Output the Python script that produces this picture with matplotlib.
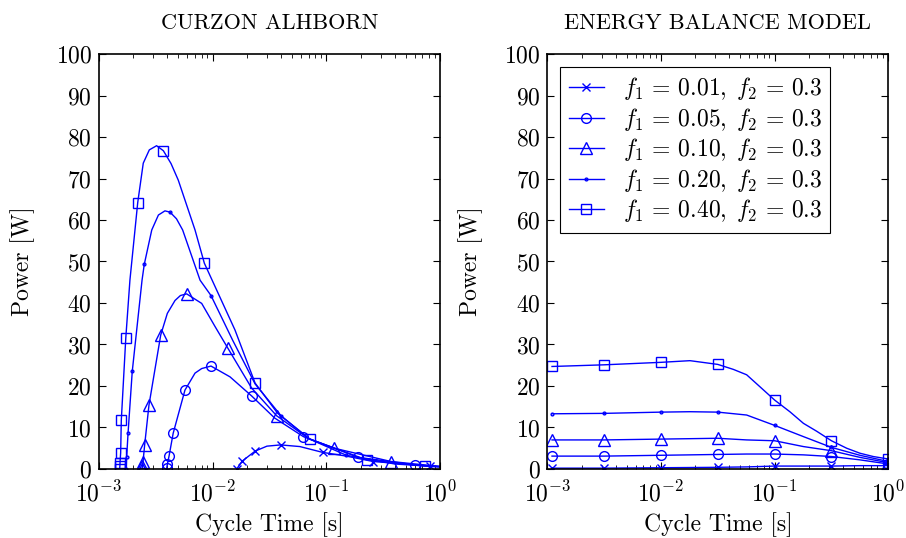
import matplotlib
matplotlib.use('Agg')
import matplotlib.pyplot as plt

plt.rcParams['font.family'] = 'serif'
plt.rcParams['font.serif'] = ['cmr10']
plt.rcParams['mathtext.fontset'] = 'cm'
plt.rcParams['axes.unicode_minus'] = False
plt.rcParams['axes.formatter.use_mathtext'] = True

# ---- Curzon-Ahlborn panel (cycle time [s], power [W]) ----
ca_t_001 = [0.01626, 0.0182, 0.0236, 0.030, 0.0396, 0.0585, 0.0927, 0.150, 0.258, 0.815, 1.0]
ca_p_001 = [0.0, 1.9, 4.3, 5.5, 5.8, 5.4, 4.0, 3.1, 1.8, 0.7, 0.6]
ca_m_001 = [0, 1, 2, 4, 6, 8, 9]

ca_t_005 = [3.94e-3, 3.99e-3, 4.13e-3, 4.49e-3, 5.7e-3, 6.99e-3, 8.0e-3, 9.66e-3,
            0.0142, 0.022, 0.035, 0.0627, 0.191, 0.60, 1.0]
ca_p_005 = [0.2, 1.1, 3.1, 8.6, 19.0, 23.1, 24.2, 24.8, 22.2, 17.6, 12.3, 7.8, 2.8, 1.0, 0.6]
ca_m_005 = [0, 1, 2, 3, 4, 7, 9, 11, 12, 13]

ca_t_010 = [2.39e-3, 2.41e-3, 2.44e-3, 2.52e-3, 2.75e-3, 3.49e-3, 3.99e-3, 4.66e-3, 5.2e-3,
            5.9e-3, 8.0e-3, 0.0105, 0.0136, 0.022, 0.0366, 0.07, 0.1173, 0.37, 1.0]
ca_p_010 = [0.1, 0.6, 1.8, 5.8, 15.4, 32.3, 37.5, 40.6, 41.8, 42.2, 39.9, 34.3, 29.1, 19.5,
            12.8, 7.3, 5.0, 1.8, 0.6]
ca_m_010 = [0, 1, 2, 3, 4, 5, 9, 12, 14, 16, 17]

ca_t_020 = [1.74e-3, 1.75e-3, 1.80e-3, 1.96e-3, 2.39e-3, 2.5e-3, 2.91e-3, 3.33e-3, 3.80e-3,
            4.21e-3, 4.8e-3, 5.44e-3, 7.74e-3, 9.66e-3, 0.015, 0.0236, 0.04, 0.07, 0.15,
            0.4, 1.0]
ca_p_020 = [0.0, 2.8, 8.6, 23.5, 45.5, 49.3, 57.6, 61.2, 62.2, 61.9, 60.3, 57.6, 45.5, 41.8,
            31.0, 20.5, 12.8, 7.3, 3.3, 1.2, 0.5]
ca_m_020 = [0, 1, 2, 3, 5, 9, 13, 16, 18]

ca_t_040 = [1.52e-3, 1.525e-3, 1.53e-3, 1.55e-3, 1.57e-3, 1.72e-3, 1.87e-3, 2.19e-3, 2.45e-3,
            2.77e-3, 3.21e-3, 3.68e-3, 4.3e-3, 4.98e-3, 6.99e-3, 8.44e-3, 0.0157, 0.0236,
            0.0373, 0.0718, 0.226, 0.737, 1.0]
ca_p_040 = [0.1, 0.6, 1.5, 3.9, 11.7, 31.6, 45.5, 64.2, 73.7, 76.9, 77.9, 76.7, 73.6, 69.6,
            57.6, 49.6, 33.5, 20.7, 13.4, 7.2, 2.2, 0.7, 0.5]
ca_m_040 = [0, 1, 2, 3, 4, 5, 7, 11, 15, 17, 19, 20, 21]

# ---- Energy balance panel ----
eb_t = [1.1e-3, 3.16e-3, 0.01, 0.018, 0.0316, 0.0567, 0.1, 0.179, 0.316, 0.562, 1.0]
eb_m = [0, 1, 2, 4, 6, 8, 10]
eb_p_001 = [0.2, 0.2, 0.3, 0.35, 0.4, 0.5, 0.7, 0.7, 0.7, 0.8, 0.8]
eb_p_005 = [3.1, 3.1, 3.3, 3.4, 3.5, 3.6, 3.6, 3.4, 3.0, 2.2, 1.2]
eb_p_010 = [7.0, 7.0, 7.2, 7.3, 7.4, 7.0, 6.8, 5.4, 4.4, 2.8, 1.5]
eb_p_020 = [13.3, 13.4, 13.7, 13.8, 13.7, 13.0, 10.5, 7.8, 5.2, 3.3, 1.8]

eb_t_040 = [1.1e-3, 3.16e-3, 0.01, 0.018, 0.0316, 0.0433, 0.0567, 0.0743, 0.1, 0.136,
            0.179, 0.234, 0.316, 0.43, 0.562, 0.736, 1.0]
eb_p_040 = [24.7, 25.1, 25.7, 26.1, 25.2, 24.0, 22.7, 19.8, 16.6, 13.8, 11.0, 9.1, 6.8,
            5.0, 3.8, 3.0, 2.4]
eb_m_040 = [0, 1, 2, 4, 8, 12, 16]

labels = [r'$f_1\,=\,0.01,\;f_2\,=\,0.3$', r'$f_1\,=\,0.05,\;f_2\,=\,0.3$',
          r'$f_1\,=\,0.10,\;f_2\,=\,0.3$', r'$f_1\,=\,0.20,\;f_2\,=\,0.3$',
          r'$f_1\,=\,0.40,\;f_2\,=\,0.3$']
markers = ['x', 'o', '^', '.', 's']
msizes = [6, 7, 8, 4, 7]
col = '#0000ff'

fig = plt.figure(figsize=(9.06, 5.38), dpi=100)
ax1 = fig.add_axes([0.1093, 0.1283, 0.3764, 0.7713])
ax2 = fig.add_axes([0.6041, 0.1283, 0.3764, 0.7713])

ca = [(ca_t_001, ca_p_001, ca_m_001), (ca_t_005, ca_p_005, ca_m_005),
      (ca_t_010, ca_p_010, ca_m_010), (ca_t_020, ca_p_020, ca_m_020),
      (ca_t_040, ca_p_040, ca_m_040)]
for (t, p, m), mk, ms in zip(ca, markers, msizes):
    ax1.plot(t, p, color=col, lw=1.0, marker=mk, ms=ms, mfc='none', mew=1.0, markevery=m)

eb = [(eb_t, eb_p_001, eb_m), (eb_t, eb_p_005, eb_m), (eb_t, eb_p_010, eb_m),
      (eb_t, eb_p_020, eb_m), (eb_t_040, eb_p_040, eb_m_040)]
for (t, p, m), mk, ms, lab in zip(eb, markers, msizes, labels):
    ax2.plot(t, p, color=col, lw=1.0, marker=mk, ms=ms, mfc='none', mew=1.0,
             markevery=m, label=lab)

for ax, title in [(ax1, 'CURZON ALHBORN'), (ax2, 'ENERGY BALANCE MODEL')]:
    ax.set_xscale('log')
    ax.set_xlim(1e-3, 1)
    ax.set_ylim(0, 100)
    ax.set_yticks(range(0, 101, 10))
    ax.tick_params(which='both', direction='in', top=True, right=True, labelsize=17)
    ax.tick_params(which='major', length=5, width=0.8)
    ax.tick_params(which='minor', length=3, width=0.6)
    ax.tick_params(axis='x', pad=9)
    ax.tick_params(axis='y', pad=5)
    for s in ax.spines.values():
        s.set_linewidth(1.2)
    ax.set_title(title, fontsize=16, pad=18)
    ax.set_xlabel('Cycle Time [s]', fontsize=17, labelpad=4)
    ax.set_ylabel('Power [W]', fontsize=17, labelpad=15)

leg = ax2.legend(loc='upper left', fontsize=17, fancybox=False, framealpha=1,
                 edgecolor='black', handlelength=1.5, handletextpad=0.8,
                 labelspacing=0.15, borderpad=0.35, borderaxespad=0.55)
leg.get_frame().set_linewidth(0.8)

plt.savefig('out.png', dpi=100)
